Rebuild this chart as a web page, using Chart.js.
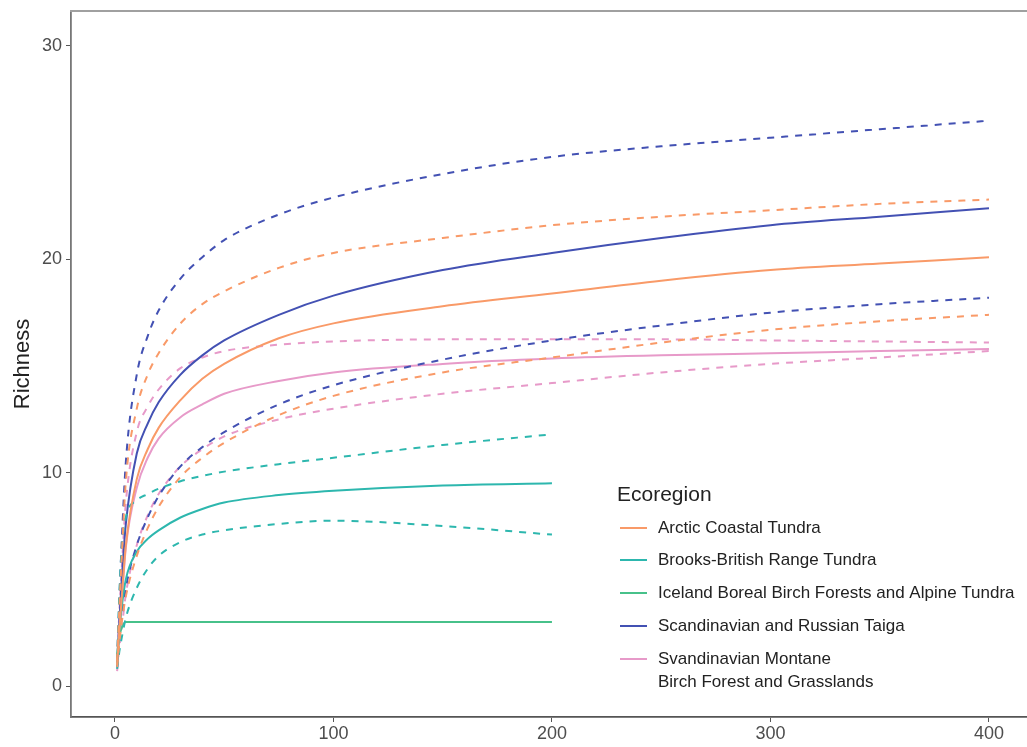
<!DOCTYPE html>
<html>
<head>
<meta charset="utf-8">
<script src="https://cdn.jsdelivr.net/npm/chart.js@4.4.1/dist/chart.umd.min.js"></script>
<style>
	body { margin: 0; background: #fff; }
	#wrap { position: relative; width: 1027px; height: 747px; }
</style>
</head>
<body>
<div id="wrap"><canvas id="line-chart"></canvas></div>
<script>
// sample sizes (x) and tick labels
var sizes = [1, 2, 3, 5, 10, 15, 20, 30, 40, 50, 75, 100, 150, 200, 250, 300, 350, 400];
var xTicks = [0, 100, 200, 300, 400];
var yTicks = [0, 10, 20, 30];

var regions = [
	"Arctic Coastal Tundra",
	"Brooks-British Range Tundra",
	"Iceland Boreal Birch Forests and Alpine Tundra",
	"Scandinavian and Russian Taiga",
	["Svandinavian Montane", "Birch Forest and Grasslands"]
];

// richness estimates + upper / lower bounds
var arcticEst  = [1.0, 2.6, 4.0, 6.6, 9.7, 11.1, 12.1, 13.4, 14.4, 15.1, 16.3, 17.0, 17.8, 18.4, 19.0, 19.5, 19.8, 20.1];
var arcticHigh = [1.2, 3.6, 5.8, 9.6, 13.0, 14.6, 15.6, 17.0, 17.9, 18.5, 19.6, 20.3, 21.0, 21.6, 22.0, 22.3, 22.6, 22.8];
var arcticLow  = [0.9, 2.0, 2.9, 4.2, 6.1, 7.4, 8.4, 9.8, 10.7, 11.4, 12.7, 13.6, 14.7, 15.4, 16.1, 16.7, 17.1, 17.4];

// Brooks and Iceland stop at 200
var brooksEst  = [1.0, 2.6, 3.6, 5.0, 6.3, 6.9, 7.3, 7.9, 8.3, 8.6, 8.95, 9.15, 9.4, 9.5];
var brooksHigh = [1.2, 4.2, 6.3, 7.9, 8.7, 9.0, 9.25, 9.6, 9.85, 10.05, 10.4, 10.7, 11.3, 11.8];
var brooksLow  = [0.8, 1.6, 2.2, 3.2, 4.6, 5.5, 6.1, 6.75, 7.1, 7.3, 7.6, 7.75, 7.5, 7.1];

var icelandEst = [1.5, 2.3, 2.7, 3.0, 3.0, 3.0, 3.0, 3.0, 3.0, 3.0, 3.0, 3.0, 3.0, 3.0];

var taigaEst  = [1.0, 3.0, 4.8, 7.6, 10.9, 12.3, 13.3, 14.6, 15.5, 16.2, 17.4, 18.3, 19.5, 20.3, 21.0, 21.6, 22.0, 22.4];
var taigaHigh = [1.2, 4.0, 6.5, 10.5, 14.6, 16.4, 17.6, 19.1, 20.1, 20.9, 22.1, 22.9, 24.0, 24.8, 25.3, 25.7, 26.1, 26.5];
var taigaLow  = [0.9, 2.2, 3.1, 4.6, 6.6, 7.9, 8.9, 10.3, 11.2, 11.9, 13.2, 14.1, 15.3, 16.2, 16.9, 17.5, 17.9, 18.2];

var montaneEst  = [0.8, 2.5, 3.8, 6.5, 9.3, 10.7, 11.6, 12.6, 13.2, 13.7, 14.3, 14.7, 15.1, 15.35, 15.5, 15.6, 15.7, 15.8];
var montaneHigh = [1.0, 3.4, 5.3, 8.6, 11.9, 13.1, 13.9, 14.9, 15.4, 15.7, 16.0, 16.15, 16.25, 16.25, 16.25, 16.2, 16.15, 16.1];
var montaneLow  = [0.7, 1.8, 2.6, 4.3, 6.6, 8.0, 9.0, 10.3, 11.1, 11.7, 12.5, 13.0, 13.7, 14.2, 14.7, 15.1, 15.4, 15.7];

var colors = ["#f99a68", "#2db7ae", "#47c18a", "#4351b3", "#e79ac9"];
var fontFamily = '"Liberation Sans", Arial, sans-serif';

function pts(vals){
	return vals.map(function(v, i){ return {x: sizes[i], y: v}; });
}

function line(vals, color, dashed){
	return {
		data: pts(vals),
		borderColor: color,
		borderWidth: 2,
		borderDash: dashed ? [7, 7] : [],
		pointRadius: 0,
		fill: false,
		cubicInterpolationMode: 'monotone'
	};
}

var datasets = [
	line(arcticHigh, colors[0], true), line(arcticLow, colors[0], true), line(arcticEst, colors[0], false),
	line(brooksHigh, colors[1], true), line(brooksLow, colors[1], true), line(brooksEst, colors[1], false),
	line(icelandEst, colors[2], false),
	line(taigaHigh, colors[3], true), line(taigaLow, colors[3], true), line(taigaEst, colors[3], false),
	line(montaneHigh, colors[4], true), line(montaneLow, colors[4], true), line(montaneEst, colors[4], false)
];

// top frame line + legend drawn inside the panel
var extras = {
	id: 'extras',
	afterDraw: function(chart){
		var ctx = chart.ctx, a = chart.chartArea;
		ctx.save();
		ctx.strokeStyle = '#a0a0a0';
		ctx.lineWidth = 2;
		ctx.beginPath();
		ctx.moveTo(a.left - 1, a.top);
		ctx.lineTo(chart.width, a.top);
		ctx.stroke();

		ctx.fillStyle = '#222';
		ctx.textBaseline = 'middle';
		ctx.font = '21px ' + fontFamily;
		ctx.fillText('Ecoregion', 617, 495);

		ctx.font = '17px ' + fontFamily;
		var rows = [528, 560, 593, 626, 659];
		for (var i = 0; i < regions.length; i++){
			ctx.strokeStyle = colors[i];
			ctx.lineWidth = 2;
			ctx.beginPath();
			ctx.moveTo(620, rows[i]);
			ctx.lineTo(647, rows[i]);
			ctx.stroke();
			var txt = [].concat(regions[i]);
			for (var j = 0; j < txt.length; j++){
				ctx.fillText(txt[j], 658, rows[i] + j * 23);
			}
		}
		ctx.restore();
	}
};

new Chart(document.getElementById("line-chart"), {
	type: 'line',
	data: { datasets: datasets },
	options: {
		responsive: true,
		maintainAspectRatio: false,
		animation: false,
		layout: { padding: { top: 11, left: 0, right: 0, bottom: 0 } },
		plugins: {
			legend: { display: false },
			tooltip: { enabled: false }
		},
		scales: {
			x: {
				type: 'linear',
				min: -20.1,
				max: 417.4,
				afterBuildTicks: function(s){ s.ticks = xTicks.map(function(v){ return {value: v}; }); },
				afterFit: function(s){ s.height = 30; s.paddingLeft = 0; s.paddingRight = 0; },
				grid: { drawOnChartArea: false, drawTicks: true, tickLength: 5, color: '#555' },
				border: { display: true, color: '#555', width: 1.8 },
				ticks: { color: '#4d4d4d', padding: 1, font: { size: 18, family: fontFamily } }
			},
			y: {
				type: 'linear',
				min: -1.45,
				max: 31.64,
				afterBuildTicks: function(s){ s.ticks = yTicks.map(function(v){ return {value: v}; }); },
				afterFit: function(s){ s.width = 71; s.paddingTop = 0; s.paddingBottom = 0; },
				grid: { drawOnChartArea: false, drawTicks: true, tickLength: 5, color: '#555' },
				border: { display: true, color: '#777', width: 1.8 },
				title: { display: true, text: 'Richness', color: '#222', padding: 10, font: { size: 22, family: fontFamily } },
				ticks: { color: '#4d4d4d', padding: 4, font: { size: 18, family: fontFamily } }
			}
		}
	},
	plugins: [extras]
});
</script>
</body>
</html>
